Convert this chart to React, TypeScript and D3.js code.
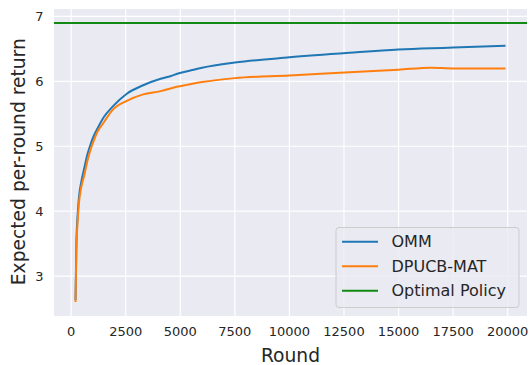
import { useEffect, useRef } from 'react';
import * as d3 from 'd3';

// Data
const rounds = [200, 240, 290, 360, 470, 600, 750, 900, 1050, 1200, 1500, 1900, 2550, 3300, 4100, 4550, 4900, 5500, 6000, 7500, 10000, 12750, 15000, 16500, 17500, 19900];
const ommReturn = [2.63, 3.5, 3.9, 4.22, 4.46, 4.66, 4.88, 5.04, 5.17, 5.27, 5.45, 5.61, 5.81, 5.94, 6.04, 6.08, 6.12, 6.17, 6.21, 6.29, 6.37, 6.44, 6.49, 6.51, 6.52, 6.55];
const dpucbReturn = [2.6, 3.4, 3.8, 4.13, 4.38, 4.55, 4.78, 4.96, 5.1, 5.22, 5.37, 5.56, 5.7, 5.8, 5.85, 5.89, 5.92, 5.96, 5.99, 6.05, 6.09, 6.14, 6.18, 6.21, 6.2, 6.2];
const optimalReturn = 6.9;

const xTicks = [0, 2500, 5000, 7500, 10000, 12500, 15000, 17500, 20000];
const yTicks = [3, 4, 5, 6, 7];

const seriesNames = ['OMM', 'DPUCB-MAT', 'Optimal Policy'];
const seriesColors = ['#1f77b4', '#ff7f0e', '#138a13'];

const W = 531;
const H = 365;
const FONT = '"DejaVu Sans", sans-serif';

export default function App() {
  const svgRef = useRef<SVGSVGElement>(null);

  useEffect(() => {
    if (!svgRef.current) return;
    const svg = d3.select(svgRef.current);
    svg.selectAll('*').remove();

    const left = 54, right = 527, top = 9, bottom = 316;

    const x = d3.scaleLinear().domain([-785, 20885]).range([left, right]);
    const y = d3.scaleLinear().domain([2.385, 7.115]).range([bottom, top]);

    // background
    svg.append('rect')
      .attr('x', left).attr('y', top)
      .attr('width', right - left).attr('height', bottom - top)
      .attr('fill', '#eaeaf2');

    // grid + tick labels
    xTicks.forEach(t => {
      svg.append('line')
        .attr('x1', x(t)).attr('x2', x(t))
        .attr('y1', top).attr('y2', bottom)
        .attr('stroke', '#fff').attr('stroke-width', 1.2);
      svg.append('text')
        .attr('x', x(t)).attr('y', 336)
        .attr('text-anchor', 'middle')
        .attr('font-family', FONT).attr('font-size', 13)
        .attr('fill', '#262626')
        .text(t.toString());
    });
    yTicks.forEach(t => {
      svg.append('line')
        .attr('x1', left).attr('x2', right)
        .attr('y1', y(t)).attr('y2', y(t))
        .attr('stroke', '#fff').attr('stroke-width', 1.2);
      svg.append('text')
        .attr('x', 43.5).attr('y', y(t))
        .attr('text-anchor', 'end')
        .attr('dominant-baseline', 'central')
        .attr('font-family', FONT).attr('font-size', 13)
        .attr('fill', '#262626')
        .text(t.toString());
    });

    const line = d3.line<[number, number]>()
      .x(d => x(d[0]))
      .y(d => y(d[1]))
      .curve(d3.curveMonotoneX);

    // optimal policy
    svg.append('line')
      .attr('x1', left).attr('x2', right)
      .attr('y1', y(optimalReturn)).attr('y2', y(optimalReturn))
      .attr('stroke', seriesColors[2]).attr('stroke-width', 2);

    [ommReturn, dpucbReturn].forEach((vals, i) => {
      svg.append('path')
        .datum(rounds.map((r, j) => [r, vals[j]] as [number, number]))
        .attr('fill', 'none')
        .attr('stroke', seriesColors[i])
        .attr('stroke-width', 2)
        .attr('stroke-linejoin', 'round')
        .attr('d', line);
    });

    // legend
    const lg = svg.append('g');
    lg.append('rect')
      .attr('x', 336).attr('y', 227.5)
      .attr('width', 183).attr('height', 80)
      .attr('rx', 3)
      .attr('fill', '#eaeaf2').attr('fill-opacity', 0.8)
      .attr('stroke', '#cccccc').attr('stroke-width', 1);
    seriesNames.forEach((name, i) => {
      const ly = 241.7 + i * 24.5;
      lg.append('line')
        .attr('x1', 342).attr('x2', 378)
        .attr('y1', ly).attr('y2', ly)
        .attr('stroke', seriesColors[i]).attr('stroke-width', 2);
      lg.append('text')
        .attr('x', 391.5).attr('y', ly)
        .attr('dominant-baseline', 'central')
        .attr('font-family', FONT).attr('font-size', 16)
        .attr('fill', '#262626')
        .text(name);
    });

    // axis labels
    svg.append('text')
      .attr('x', (left + right) / 2).attr('y', 361.5)
      .attr('text-anchor', 'middle')
      .attr('font-family', FONT).attr('font-size', 18.7)
      .attr('fill', '#262626')
      .text('Round');
    svg.append('text')
      .attr('transform', `translate(25,161.7) rotate(-90)`)
      .attr('text-anchor', 'middle')
      .attr('font-family', FONT).attr('font-size', 18.7)
      .attr('fill', '#262626')
      .text('Expected per-round return');
  }, []);

  return (
    <div style={{ position: 'fixed', left: 0, top: 0 }}>
      <svg ref={svgRef} width={W} height={H} style={{ display: 'block', background: '#fff' }} />
    </div>
  );
}
